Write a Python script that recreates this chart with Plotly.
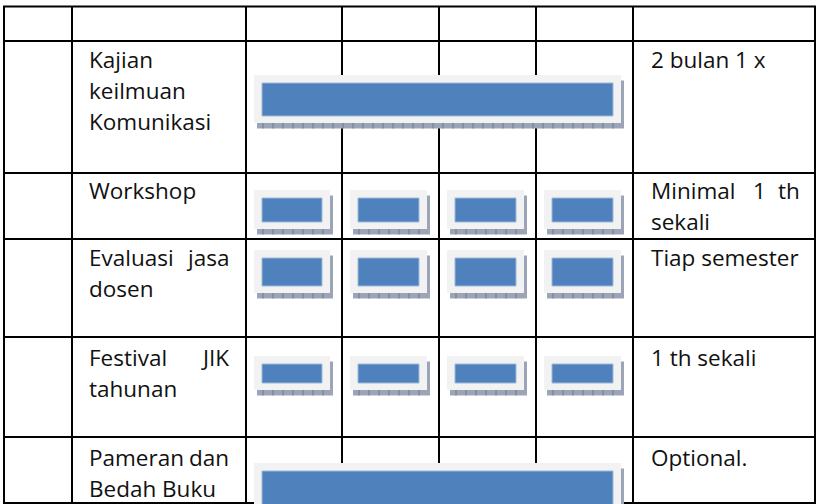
import plotly.graph_objects as go

# ---------------- data ----------------
header = ["", "", "", "", "", "", ""]
activities = [
    ["Kajian", "keilmuan", "Komunikasi"],
    ["Workshop"],
    ["Evaluasi jasa", "dosen"],
    ["Festival JIK", "tahunan"],
    ["Pameran dan", "Bedah Buku"],
]
frequency = [
    ["2 bulan 1 x"],
    ["Minimal 1 th", "sekali"],
    ["Tiap semester"],
    ["1 th sekali"],
    ["Optional."],
]
# periods (columns 1..4) covered by each activity's bars
schedule = [
    [(1, 4)],
    [(1, 1), (2, 2), (3, 3), (4, 4)],
    [(1, 1), (2, 2), (3, 3), (4, 4)],
    [(1, 1), (2, 2), (3, 3), (4, 4)],
    [(1, 4)],
]

# ---------------- layout constants ----------------
W, H = 818, 504
COL_X = [4, 72, 246, 342, 439, 536, 633, 815]
ROW_Y = [6.5, 41, 173, 239, 337, 437, 503]
BAR_TOP = [34, 17, 11, 19, 26]
BAR_H = [48, 39, 43, 34, 50]
GRAY_L, GRAY_R = 8, 12
BLUE_IN_X, BLUE_IN_T, BLUE_IN_B = 8, 8, 7
SH_DX, SH_DY = 3, 5.5

FONT = "Open Sans"
FS = 22.5
LINE_H = 31
BASE_OFF = [27, 26, 27, 29, 29]
TEXT_COLS = {1: (87, 231), 6: (649, 802)}

EM = {
    'a': .556, 'b': .613, 'c': .48, 'd': .613, 'e': .561, 'f': .336, 'g': .546,
    'h': .614, 'i': .258, 'j': .258, 'k': .529, 'l': .258, 'm': .932, 'n': .614,
    'o': .601, 'p': .613, 'r': .408, 's': .479, 't': .353, 'u': .614, 'v': .5,
    'w': .774, 'x': .518, 'y': .5, ' ': .26, '.': .266,
    'B': .663, 'E': .556, 'F': .514, 'I': .328, 'J': .264, 'K': .597, 'M': .907,
    'O': .78, 'P': .604, 'T': .556, 'W': .928,
}


def text_w(s):
    return sum(EM.get(ch, .572) for ch in s) * FS


fig = go.Figure()
shapes = []
annotations = []

# table grid
for y in ROW_Y:
    shapes.append(dict(type="line", x0=COL_X[0] - 1, x1=COL_X[-1] + 1, y0=y, y1=y,
                       line=dict(color="black", width=2), layer="above"))
for x in COL_X:
    shapes.append(dict(type="line", x0=x, x1=x, y0=ROW_Y[0], y1=ROW_Y[-1],
                       line=dict(color="black", width=2), layer="above"))

# bars (drawn after the grid so they cover it)
for r, spans in enumerate(schedule):
    top = ROW_Y[r + 1] + BAR_TOP[r]
    bot = top + BAR_H[r]
    for (p0, p1) in spans:
        gx0 = COL_X[p0 + 1] + GRAY_L
        gx1 = COL_X[p1 + 2] - GRAY_R
        shapes.append(dict(type="rect", x0=gx0 + SH_DX, x1=gx1 + SH_DX,
                           y0=top + SH_DY, y1=bot + SH_DY,
                           fillcolor="#9ba5b7", line=dict(width=0), layer="above"))
        # small ruler ticks in the shadow
        xx = gx0 + SH_DX + 6
        while xx < gx1 + SH_DX - 2:
            shapes.append(dict(type="line", x0=xx, x1=xx, y0=bot, y1=bot + SH_DY,
                               line=dict(color="#6e7a90", width=1), layer="above"))
            xx += 10
        shapes.append(dict(type="rect", x0=gx0, x1=gx1, y0=top, y1=bot,
                           fillcolor="#f2f2f2", line=dict(width=0), layer="above"))
        shapes.append(dict(type="rect", x0=gx0 + BLUE_IN_X, x1=gx1 - BLUE_IN_X,
                           y0=top + BLUE_IN_T, y1=bot - BLUE_IN_B,
                           fillcolor="#4f81bd", line=dict(color="#9db8dc", width=1),
                           layer="above"))


def add_cell_text(lines, col, r):
    left, right = TEXT_COLS[col]
    base0 = ROW_Y[r + 1] + BASE_OFF[r]
    for i, line in enumerate(lines):
        yc = base0 + i * LINE_H - 0.388 * FS
        words = line.split(" ")
        last = i == len(lines) - 1
        if last or len(words) == 1:
            annotations.append(dict(x=left, y=yc, text=line, xanchor="left", yanchor="middle"))
        else:
            ws = [text_w(w) for w in words]
            gap = (right - left - sum(ws)) / (len(words) - 1)
            x = left
            for j, w in enumerate(words):
                if j == len(words) - 1:
                    annotations.append(dict(x=right, y=yc, text=w, xanchor="right", yanchor="middle"))
                else:
                    annotations.append(dict(x=x, y=yc, text=w, xanchor="left", yanchor="middle"))
                x += ws[j] + gap


for r in range(len(activities)):
    add_cell_text(activities[r], 1, r)
    add_cell_text(frequency[r], 6, r)

for a in annotations:
    a.update(xref="x", yref="y", showarrow=False,
             font=dict(family=FONT, size=FS, color="#111111"))

fig.update_layout(
    width=W, height=H,
    margin=dict(l=0, r=0, t=0, b=0),
    paper_bgcolor="white", plot_bgcolor="white",
    xaxis=dict(range=[0, W], visible=False, fixedrange=True),
    yaxis=dict(range=[H, 0], visible=False, fixedrange=True),
    shapes=shapes, annotations=annotations, showlegend=False,
)
fig.write_html(
    "out.html",
    config={"displayModeBar": False},
    post_script="document.body.style.margin='0';document.body.style.overflow='hidden';",
)
